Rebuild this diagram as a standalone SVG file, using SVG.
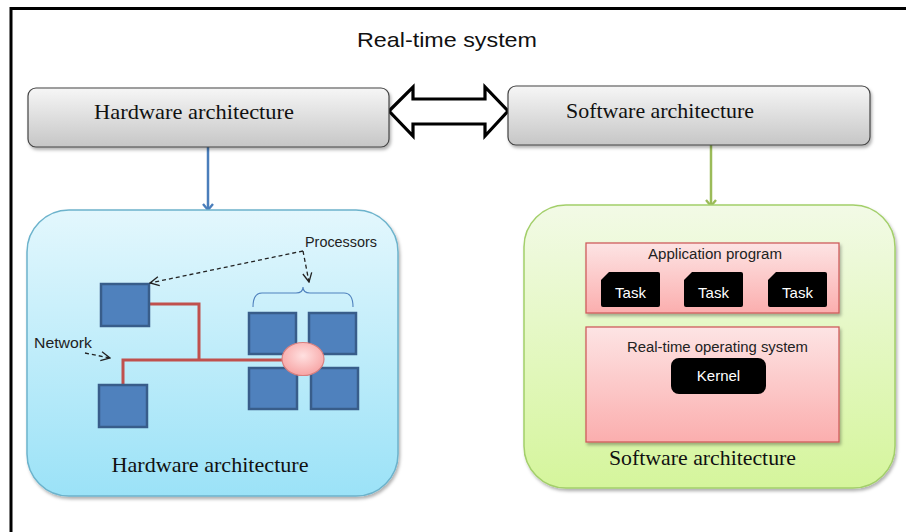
<svg xmlns="http://www.w3.org/2000/svg" width="906" height="532" viewBox="0 0 906 532">
  <defs>
    <linearGradient id="gGray" x1="0" y1="0" x2="0" y2="1">
      <stop offset="0" stop-color="#f6f6f6"/>
      <stop offset="1" stop-color="#c6c6c6"/>
    </linearGradient>
    <linearGradient id="gBlue" x1="0" y1="0" x2="0" y2="1">
      <stop offset="0" stop-color="#e3f7fd"/>
      <stop offset="1" stop-color="#9be2f7"/>
    </linearGradient>
    <linearGradient id="gGreen" x1="0" y1="0" x2="0" y2="1">
      <stop offset="0" stop-color="#f2fae6"/>
      <stop offset="1" stop-color="#d5f59c"/>
    </linearGradient>
    <linearGradient id="gPink" x1="0" y1="0" x2="0" y2="1">
      <stop offset="0" stop-color="#fde4e4"/>
      <stop offset="1" stop-color="#fbaeae"/>
    </linearGradient>
    <radialGradient id="gHub" cx="0.5" cy="0.4" r="0.6">
      <stop offset="0" stop-color="#ffe0e0"/>
      <stop offset="1" stop-color="#f7a4a4"/>
    </radialGradient>
    <filter id="shadow" x="-10%" y="-10%" width="120%" height="130%">
      <feDropShadow dx="1.5" dy="2.5" stdDeviation="1.8" flood-color="#000" flood-opacity="0.3"/>
    </filter>
    <marker id="arrowBlue" viewBox="0 0 12 12" refX="10" refY="6" markerWidth="12" markerHeight="12" markerUnits="userSpaceOnUse" orient="auto">
      <path d="M4,1 L10,6 L4,11" fill="none" stroke="#4a7ebb" stroke-width="2.4"/>
    </marker>
    <marker id="arrowGreen" viewBox="0 0 12 12" refX="10" refY="6" markerWidth="12" markerHeight="12" markerUnits="userSpaceOnUse" orient="auto">
      <path d="M4,1 L10,6 L4,11" fill="none" stroke="#9bbb59" stroke-width="2.4"/>
    </marker>
    <marker id="arrowOpen" viewBox="0 0 12 12" refX="11" refY="6" markerWidth="12" markerHeight="12" markerUnits="userSpaceOnUse" orient="auto">
      <path d="M2,1.5 L11,6 L2,10.5" fill="none" stroke="#222" stroke-width="1.3"/>
    </marker>
    <style>
      .frame { fill: none; stroke: #000; stroke-width: 3; }
      .title { font-family: "Liberation Sans", "Open Sans", sans-serif; font-size: 21px; fill: #111; }
      .serif { font-family: "Liberation Serif", "DejaVu Serif", serif; font-size: 21px; fill: #111; }
      .sans { font-family: "Liberation Sans", "Noto Sans", sans-serif; font-size: 14px; fill: #222; }
      .white { font-family: "Liberation Sans", "Noto Sans", sans-serif; font-size: 15px; fill: #fff; }
      .topbox { fill: url(#gGray); stroke: #444; stroke-width: 1.2; }
      .proc { fill: #4f81bd; stroke: #385d8a; stroke-width: 2.5; }
      .bus { fill: none; stroke: #c0504d; stroke-width: 3; }
      .dash { fill: none; stroke: #222; stroke-width: 1.3; stroke-dasharray: 4 3; }
      .layer { fill: url(#gPink); stroke: #cf5c5c; stroke-width: 1.3; }
      .blk { fill: #000; }
    </style>
  </defs>

  <rect width="906" height="532" fill="#fff"/>
  <!-- outer frame (continues past the right and bottom edges) -->
  <rect class="frame" x="11" y="8.5" width="910" height="540"/>

  <text class="title" x="447" y="47" text-anchor="middle" textLength="180" lengthAdjust="spacingAndGlyphs">Real-time system</text>

  <!-- connectors -->
  <g id="connectors">
    <polygon points="389,111 413,87 413,99 485,99 485,87 508,111 485,136 485,124 413,124 413,136" fill="#fff" stroke="#000" stroke-width="3.2" stroke-linejoin="miter"/>
    <line x1="208" y1="147" x2="208" y2="210" stroke="#4a7ebb" stroke-width="2.5" marker-end="url(#arrowBlue)"/>
    <line x1="711" y1="145" x2="711" y2="206" stroke="#9bbb59" stroke-width="2.5" marker-end="url(#arrowGreen)"/>
  </g>

  <!-- top-level boxes -->
  <g id="hw-top">
    <rect class="topbox" x="28" y="88" width="361" height="59" rx="8" filter="url(#shadow)"/>
    <text class="serif" x="194" y="119" text-anchor="middle" textLength="200" lengthAdjust="spacingAndGlyphs">Hardware architecture</text>
  </g>
  <g id="sw-top">
    <rect class="topbox" x="508" y="86" width="362" height="59" rx="8" filter="url(#shadow)"/>
    <text class="serif" x="660" y="118" text-anchor="middle" textLength="188" lengthAdjust="spacingAndGlyphs">Software architecture</text>
  </g>

  <!-- hardware detail panel -->
  <g id="hw-panel">
    <rect x="27" y="210" width="371" height="286" rx="42" fill="url(#gBlue)" stroke="#6cb3cc" stroke-width="1.5" filter="url(#shadow)"/>

    <!-- network wiring -->
    <path class="bus" d="M150,304 H199 V360"/>
    <path class="bus" d="M285,360 H123 V386"/>

    <g id="proc-a"><rect class="proc" x="101" y="284" width="48" height="42"/></g>
    <g id="proc-b"><rect class="proc" x="99" y="385" width="48" height="42"/></g>
    <g id="proc-c1"><rect class="proc" x="249" y="313" width="47" height="41"/></g>
    <g id="proc-c2"><rect class="proc" x="309" y="313" width="47" height="41"/></g>
    <g id="proc-c3"><rect class="proc" x="249" y="368" width="48" height="41"/></g>
    <g id="proc-c4"><rect class="proc" x="311" y="368" width="47" height="41"/></g>
    <g id="hub"><ellipse cx="303" cy="359" rx="21" ry="16.5" fill="url(#gHub)" stroke="#d77f7f" stroke-width="1.2"/></g>

    <!-- brace over the processor cluster -->
    <path d="M253,307 Q253,293 262,293 H296 Q303,293 303,287 Q303,293 310,293 H344 Q353,293 353,307" fill="none" stroke="#4f81bd" stroke-width="1.1"/>

    <!-- callouts -->
    <path class="dash" d="M303,251 L150,283" marker-end="url(#arrowOpen)"/>
    <path class="dash" d="M303,251 L309,282" marker-end="url(#arrowOpen)"/>
    <path class="dash" d="M85,353 L110,358" marker-end="url(#arrowOpen)"/>
    <text class="sans" x="305" y="247" textLength="72" lengthAdjust="spacingAndGlyphs">Processors</text>
    <text class="sans" x="34" y="348" textLength="58" lengthAdjust="spacingAndGlyphs">Network</text>

    <text class="serif" x="210" y="472" text-anchor="middle" textLength="197" lengthAdjust="spacingAndGlyphs">Hardware architecture</text>
  </g>

  <!-- software detail panel -->
  <g id="sw-panel">
    <rect x="524" y="205" width="371" height="283" rx="42" fill="url(#gGreen)" stroke="#a3cf6a" stroke-width="1.5" filter="url(#shadow)"/>

    <g id="app-layer">
      <rect class="layer" x="586" y="243" width="253" height="70" filter="url(#shadow)"/>
      <text class="sans" x="715" y="259" text-anchor="middle" textLength="134" lengthAdjust="spacingAndGlyphs">Application program</text>
    </g>
    <g id="task-1">
      <path class="blk" d="M609,272 H658 Q660,272 660,274 V305 Q660,307 658,307 H603 Q601,307 601,305 V280 Z"/>
      <text class="white" x="630.5" y="298" text-anchor="middle">Task</text>
    </g>
    <g id="task-2">
      <path class="blk" d="M692,272 H741 Q743,272 743,274 V305 Q743,307 741,307 H686 Q684,307 684,305 V280 Z"/>
      <text class="white" x="713.5" y="298" text-anchor="middle">Task</text>
    </g>
    <g id="task-3">
      <path class="blk" d="M776,272 H825 Q827,272 827,274 V305 Q827,307 825,307 H770 Q768,307 768,305 V280 Z"/>
      <text class="white" x="797.5" y="298" text-anchor="middle">Task</text>
    </g>

    <g id="rtos-layer">
      <rect class="layer" x="586" y="327" width="253" height="115" filter="url(#shadow)"/>
      <text class="sans" x="717.5" y="352" text-anchor="middle" textLength="181" lengthAdjust="spacingAndGlyphs">Real-time operating system</text>
    </g>
    <g id="kernel">
      <rect class="blk" x="671" y="358" width="95" height="36" rx="8"/>
      <text class="white" x="718.5" y="381" text-anchor="middle">Kernel</text>
    </g>

    <text class="serif" x="702.5" y="465" text-anchor="middle" textLength="187" lengthAdjust="spacingAndGlyphs">Software architecture</text>
  </g>
</svg>
